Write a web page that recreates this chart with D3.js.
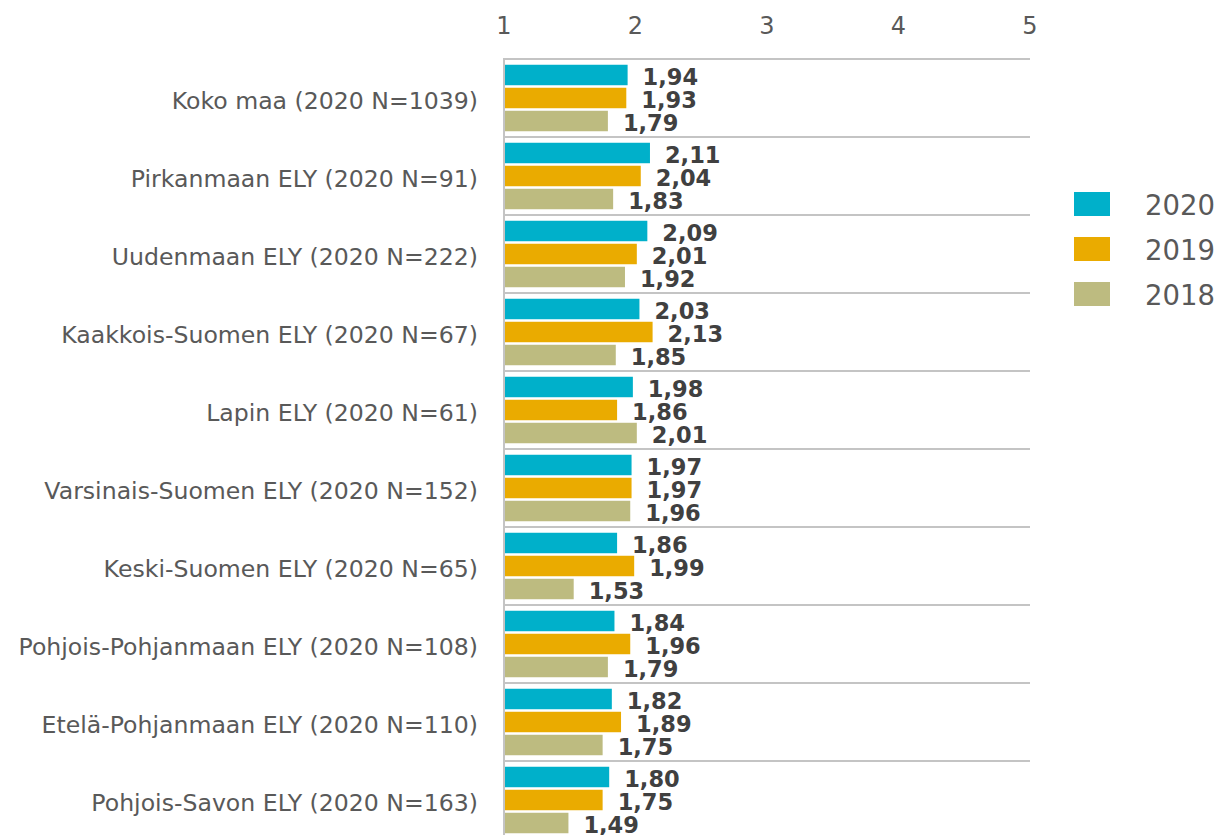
<!DOCTYPE html>
<html>
<head>
<meta charset="utf-8">
<script src="https://cdn.jsdelivr.net/npm/d3@7"></script>
<style>
  body { margin: 0; background: #fff; }
  text { font-family: "DejaVu Sans", Verdana, sans-serif; }
</style>
</head>
<body>
<svg class="svg-main" width="1219" height="835"></svg>
<script>
const categories = [
  "Koko maa (2020 N=1039)",
  "Pirkanmaan ELY (2020 N=91)",
  "Uudenmaan ELY (2020 N=222)",
  "Kaakkois-Suomen ELY (2020 N=67)",
  "Lapin ELY (2020 N=61)",
  "Varsinais-Suomen ELY (2020 N=152)",
  "Keski-Suomen ELY (2020 N=65)",
  "Pohjois-Pohjanmaan ELY (2020 N=108)",
  "Etelä-Pohjanmaan ELY (2020 N=110)",
  "Pohjois-Savon ELY (2020 N=163)"
];
const years = ["2020", "2019", "2018"];
const values2020 = [1.94, 2.11, 2.09, 2.03, 1.98, 1.97, 1.86, 1.84, 1.82, 1.80];
const values2019 = [1.93, 2.04, 2.01, 2.13, 1.86, 1.97, 1.99, 1.96, 1.89, 1.75];
const values2018 = [1.79, 1.83, 1.92, 1.85, 2.01, 1.96, 1.53, 1.79, 1.75, 1.49];
const colors = ["#00b0ca", "#eaab00", "#bdbb80"];
const ticks = [1, 2, 3, 4, 5];

const series = [values2020, values2019, values2018];

const svg = d3.select('.svg-main');

const x = d3.scaleLinear().domain([1, 5]).range([504, 1030]);
const y = d3.scaleBand().domain(categories).range([59, 839]);
const yInner = d3.scaleBand().domain(years)
  .range([0, y.bandwidth()])
  .paddingInner(0.11)
  .paddingOuter(0.25);

const fmt = d3.formatLocale({ decimal: ",", thousands: " ", grouping: [3], currency: ["", "€"] }).format(".2f");

// top axis, labels only
svg.append("g")
  .selectAll("text")
  .data(ticks)
  .enter().append("text")
    .attr("x", (d) => x(d))
    .attr("y", 34)
    .attr("text-anchor", "middle")
    .attr("font-size", 24)
    .attr("fill", "#595959")
    .text((d) => d);

// group separators
svg.append("g")
  .selectAll("line")
  .data(categories)
  .enter().append("line")
    .attr("x1", x(1))
    .attr("x2", x(5))
    .attr("y1", (d) => y(d))
    .attr("y2", (d) => y(d))
    .attr("stroke", "#c4c4c4")
    .attr("stroke-width", 2);

svg.append("line")
  .attr("x1", x(1)).attr("x2", x(1))
  .attr("y1", y.range()[0] - 1).attr("y2", 835)
  .attr("stroke", "#c4c4c4")
  .attr("stroke-width", 2);

// category labels
svg.append("g")
  .selectAll("text")
  .data(categories)
  .enter().append("text")
    .attr("x", 478)
    .attr("y", (d) => y(d) + y.bandwidth() / 2 + 10.5)
    .attr("text-anchor", "end")
    .attr("font-size", 23.6)
    .attr("fill", "#595959")
    .text((d) => d);

const rows = [];
categories.forEach((c, i) => {
  years.forEach((yr, j) => {
    rows.push({ cat: c, year: yr, value: series[j][i], color: colors[j] });
  });
});

const bars = svg.append("g")
  .selectAll("g")
  .data(rows)
  .enter().append("g")
    .attr("transform", (d) => `translate(0,${y(d.cat) + yInner(d.year)})`);

bars.append("rect")
  .attr("x", x(1) + 1)
  .attr("y", 0)
  .attr("width", (d) => x(d.value) - x(1) - 1)
  .attr("height", yInner.bandwidth())
  .attr("fill", (d) => d.color);

bars.append("text")
  .attr("x", (d) => x(d.value) + 15)
  .attr("y", yInner.bandwidth() / 2 + 9.5)
  .attr("font-size", 22.5)
  .attr("font-weight", "bold")
  .attr("fill", "#404040")
  .text((d) => fmt(d.value));

// legend
const legend = svg.append("g")
  .selectAll("g")
  .data(years)
  .enter().append("g")
    .attr("transform", (d, i) => `translate(1074,${192 + i * 45})`);

legend.append("rect")
  .attr("width", 36)
  .attr("height", 24)
  .attr("fill", (d, i) => colors[i]);

legend.append("text")
  .attr("x", 71)
  .attr("y", 23)
  .attr("font-size", 27.5)
  .attr("fill", "#595959")
  .text((d) => d);
</script>
</body>
</html>
